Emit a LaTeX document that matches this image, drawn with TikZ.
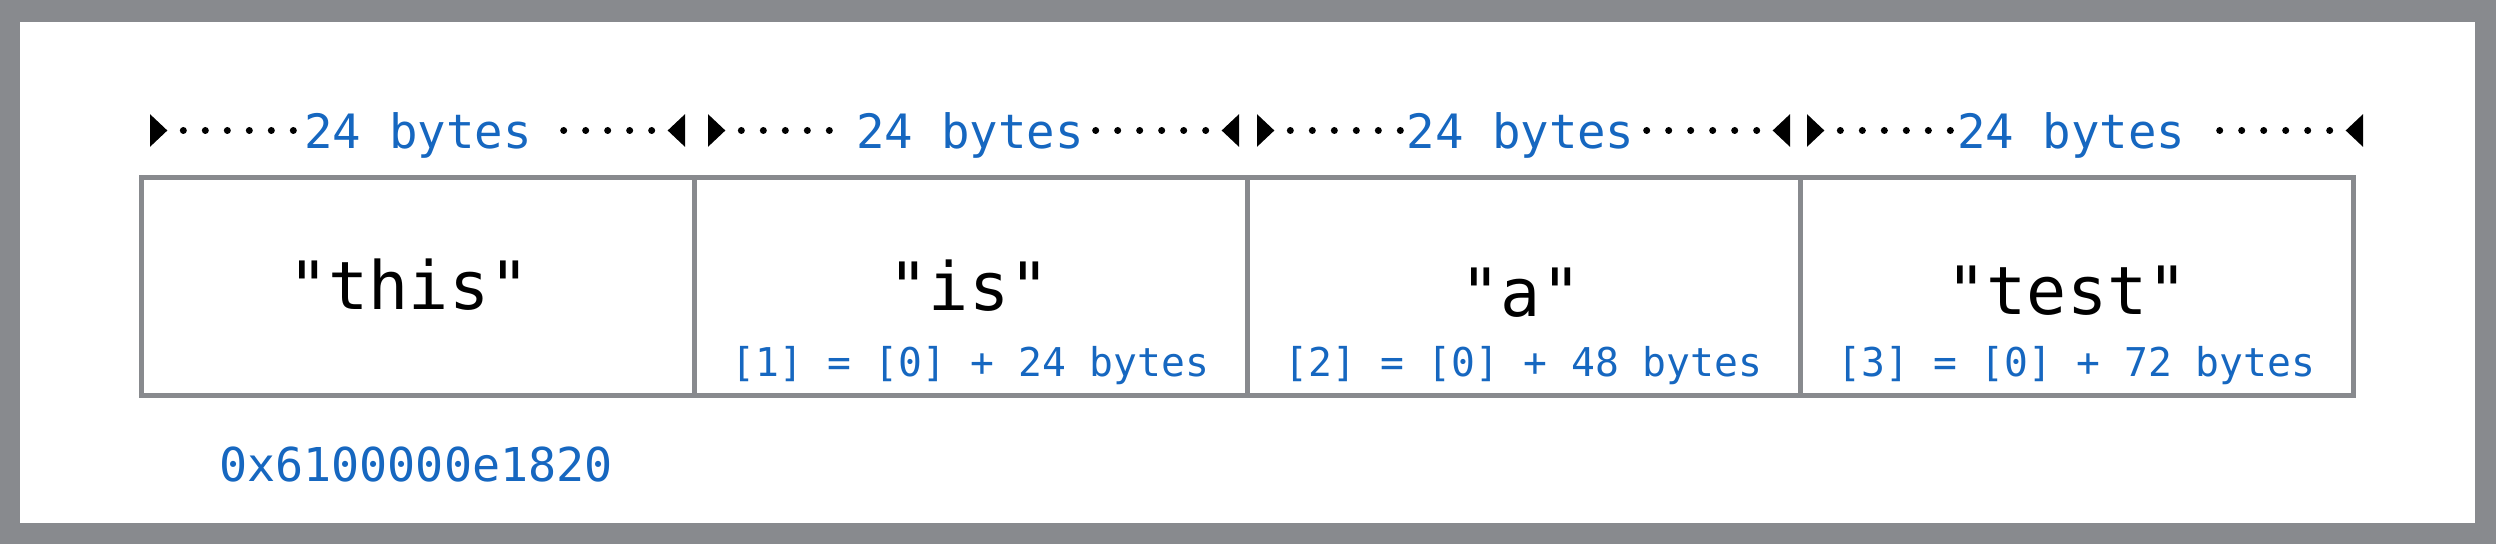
\documentclass[tikz,border=0pt]{standalone}
\usepackage{fontspec}
\usetikzlibrary{arrows.meta}
\newfontfamily\codefont{DejaVu Sans Mono}
\definecolor{rimgray}{RGB}{136,138,142}
\definecolor{addrblue}{RGB}{22,103,192}
\newcommand{\cellfnt}  {\codefont\fontsize{20pt}{24pt}\selectfont}
\newcommand{\sizefnt}  {\codefont\fontsize{14.2pt}{17pt}\selectfont}
\newcommand{\addrfnt}  {\codefont\fontsize{14pt}{17pt}\selectfont}
\newcommand{\offsfnt}  {\codefont\fontsize{11.9pt}{14pt}\selectfont}
\newcommand{\dimtip}   {Triangle[reversed,length=5.2pt,width=9.8pt,line width=0pt]}

\begin{document}
\begin{tikzpicture}[x=0.3pt,y=-0.3pt,
    cell/.style={draw=rimgray,line width=1.5pt,minimum width=165.9pt,minimum height=65.4pt,inner sep=0pt},
    word/.style={anchor=base,font=\cellfnt},
    offs/.style={anchor=base,font=\offsfnt,text=addrblue},
    bytelabel/.style={font=\sizefnt,text=addrblue,inner sep=2.4pt},
    dimline/.style={line width=2.1pt,line cap=round,dash pattern=on 0pt off 6.6pt,dash phase=1.8pt}]
  \fill[rimgray] (0,0) rectangle (2496,544);
  \fill[white] (20,22) rectangle (2475,523);
  % the four 24 byte slots
  \node[cell] (c0) at ( 417.5,287) {};
  \node[cell] (c1) at ( 970.5,287) {};
  \node[cell] (c2) at (1523.5,287) {};
  \node[cell] (c3) at (2076.5,287) {};
  \node[word] (w0) at ( 409,310) {"this"};
  \node[word] (w1) at ( 969,311) {"is"};
  \node[word] (w2) at (1521,317) {"a"};
  \node[word] (w3) at (2067,315) {"test"};
  \node[offs] (o1) at ( 970.5,377) {[1] = [0] + 24 bytes};
  \node[offs] (o2) at (1523.5,377) {[2] = [0] + 48 bytes};
  \node[offs] (o3) at (2076.5,377) {[3] = [0] + 72 bytes};
  \node[anchor=base,font=\addrfnt,text=addrblue] (addr) at (416,482) {0x6100000e1820};
  % size markers above the slots
  \coordinate (s0) at ( 150,130.5); \coordinate (e0) at ( 685,130.5);
  \coordinate (s1) at ( 708,130.5); \coordinate (e1) at (1239,130.5);
  \coordinate (s2) at (1257,130.5); \coordinate (e2) at (1790,130.5);
  \coordinate (s3) at (1807,130.5); \coordinate (e3) at (2363,130.5);
  \foreach \i/\x/\gl/\gr in {0/418/0/5.5,1/970/0/0,2/1520.5/1.5/0,3/2071/1.5/2} {
    \node[bytelabel] (b\i) at (\x,135) {24 bytes};
    \draw[dimline,{\dimtip}-] (s\i) -- ([xshift=\gl pt]s\i -| b\i.west);
    \draw[dimline,{\dimtip}-] (e\i) -- ([xshift=\gr pt]e\i -| b\i.east);
  }
\end{tikzpicture}
\end{document}
